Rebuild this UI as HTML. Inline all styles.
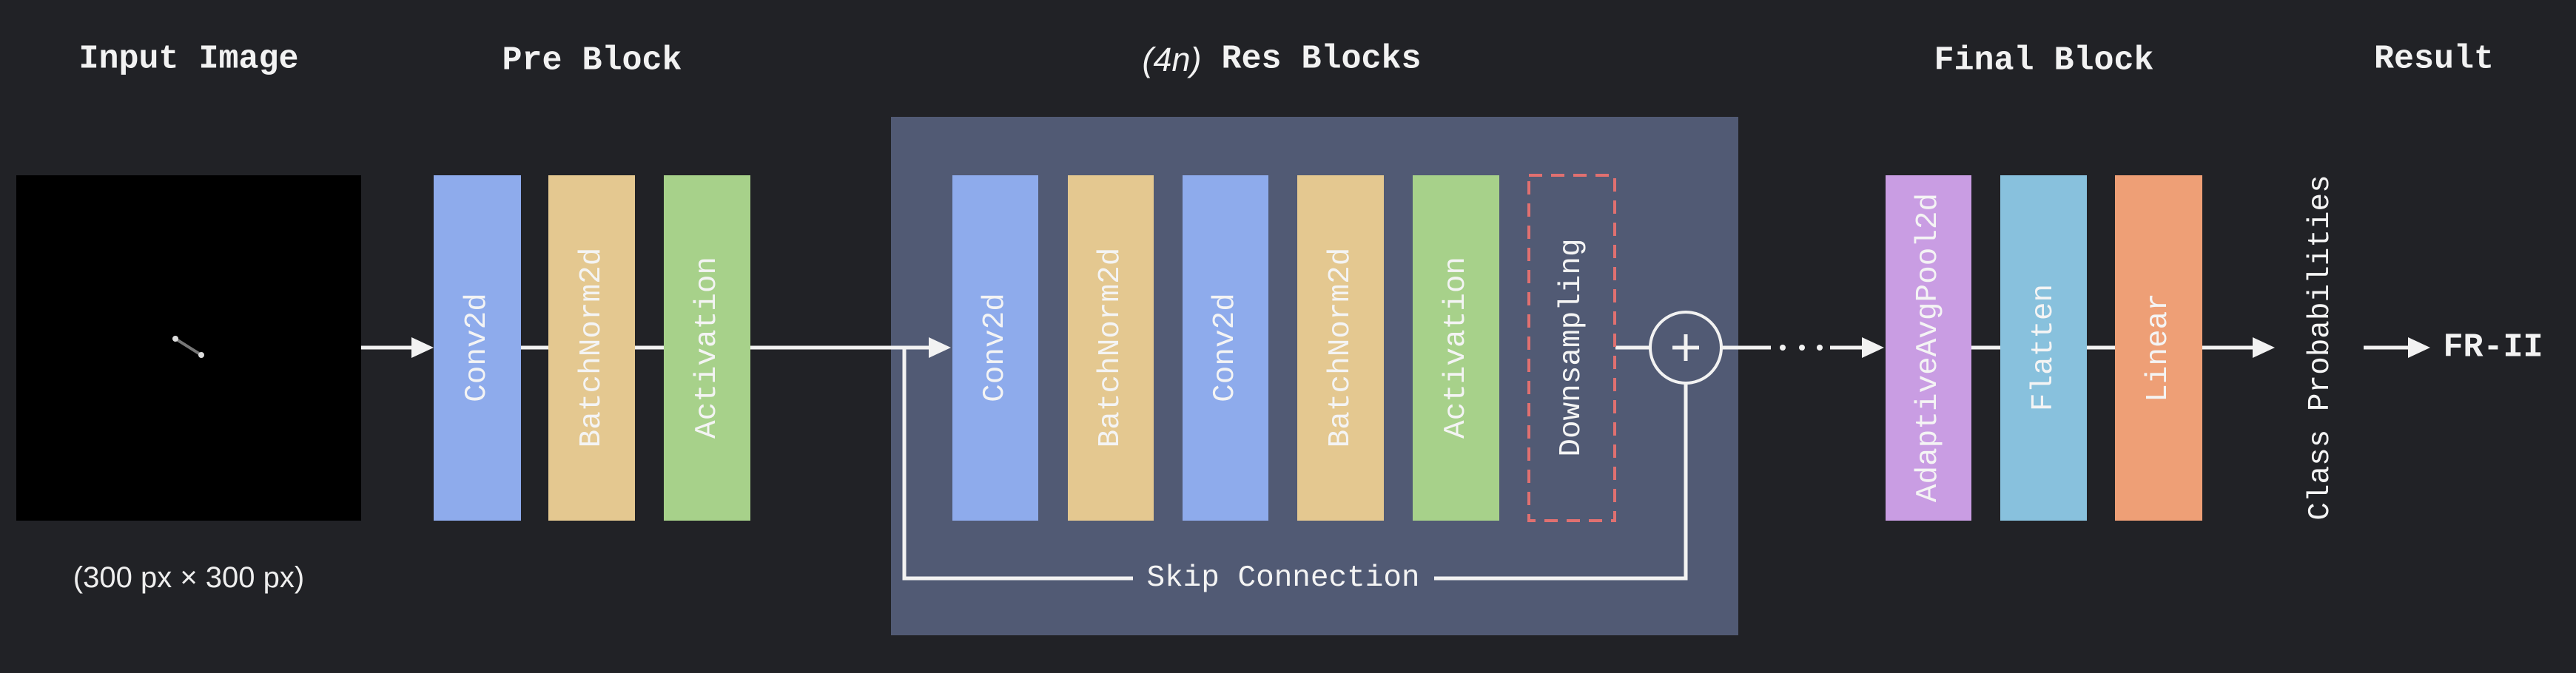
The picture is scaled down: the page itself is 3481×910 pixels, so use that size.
<!DOCTYPE html>
<html><head><meta charset="utf-8"><style>
html,body{margin:0;padding:0;background:#212226;}
svg{display:block}
.t{font-family:"Liberation Mono",monospace;font-weight:bold;font-size:45px;fill:#f2f2f2;text-anchor:middle;dominant-baseline:central}
.b{font-family:"Liberation Mono",monospace;font-size:41px;fill:#f4f4f4;text-anchor:middle;dominant-baseline:central}
</style></head><body>
<svg width="3481" height="910" viewBox="0 0 3481 910" xmlns="http://www.w3.org/2000/svg">
<rect width="3481" height="910" fill="#212226"/>
<defs><marker id="a" markerWidth="10" markerHeight="10" refX="9" refY="5" orient="auto" markerUnits="userSpaceOnUse" viewBox="0 0 10 10"></marker></defs>
<!-- titles -->
<text class="t" x="255" y="80">Input Image</text>
<text class="t" x="800" y="82">Pre Block</text>
<text class="t" x="1732" y="80"><tspan font-family="Liberation Sans,sans-serif" font-weight="normal" font-style="italic">(4n)</tspan> Res Blocks</text>
<text class="t" x="2762" y="82">Final Block</text>
<text class="t" x="3289" y="80">Result</text>
<!-- input image -->
<rect x="22" y="237" width="466" height="467" fill="#000"/>
<line x1="237" y1="458" x2="272" y2="480" stroke="#777" stroke-width="4"/>
<circle cx="237" cy="458" r="4" fill="#ddd"/><circle cx="272" cy="480" r="4" fill="#ddd"/>
<text x="255" y="781" font-family="Liberation Sans,sans-serif" font-size="40" fill="#eee" text-anchor="middle" dominant-baseline="central">(300 px × 300 px)</text>
<!-- res panel -->
<rect x="1204" y="158" width="1145" height="701" fill="#515a74"/>
<!-- main line -->
<g stroke="#f2f2f2" stroke-width="5" fill="none">
<line x1="488" y1="470" x2="560" y2="470"/>
<line x1="704" y1="470" x2="1265" y2="470"/>
<line x1="2183" y1="470" x2="2230" y2="470"/>
<line x1="2326" y1="470" x2="2393" y2="470"/>
<line x1="2473" y1="470" x2="2520" y2="470"/>
<line x1="2664" y1="470" x2="2860" y2="470"/>
<line x1="2976" y1="470" x2="3050" y2="470"/>
<line x1="3194" y1="470" x2="3260" y2="470"/>
<polyline points="1222,470 1222,782 1531,782"/>
<polyline points="1938,782 2278,782 2278,518"/>
<circle cx="2278" cy="470" r="48" stroke-width="4"/>
<line x1="2278" y1="452" x2="2278" y2="488"/>
<line x1="2260" y1="470" x2="2296" y2="470"/>
</g>
<g fill="#f2f2f2">
<polygon points="586,470 556,456 556,484"/>
<polygon points="1285,470 1255,456 1255,484"/>
<polygon points="2546,470 2516,456 2516,484"/>
<polygon points="3074,470 3044,456 3044,484"/>
<polygon points="3284,470 3254,456 3254,484"/>
<circle cx="2409" cy="470" r="4"/><circle cx="2435" cy="470" r="4"/><circle cx="2459" cy="470" r="4"/>
</g>
<text class="b" x="1734" y="782">Skip Connection</text>
<!-- boxes -->
<rect x="586" y="237" width="118" height="467" fill="#8eabec"/>
<rect x="741" y="237" width="117" height="467" fill="#e4c890"/>
<rect x="897" y="237" width="117" height="467" fill="#a7d18a"/>
<rect x="1287" y="237" width="116" height="467" fill="#8eabec"/>
<rect x="1443" y="237" width="116" height="467" fill="#e4c890"/>
<rect x="1598" y="237" width="116" height="467" fill="#8eabec"/>
<rect x="1753" y="237" width="117" height="467" fill="#e4c890"/>
<rect x="1909" y="237" width="117" height="467" fill="#a7d18a"/>
<rect x="2066" y="237" width="116" height="467" fill="none" stroke="#e07070" stroke-width="4" stroke-dasharray="18,12"/>
<rect x="2548" y="237" width="116" height="467" fill="#c99de3"/>
<rect x="2703" y="237" width="117" height="467" fill="#88c1dd"/>
<rect x="2858" y="237" width="118" height="467" fill="#ee9f76"/>
<g class="b">
<text class="b" transform="translate(645,470) rotate(-90)">Conv2d</text>
<text class="b" transform="translate(800,470) rotate(-90)">BatchNorm2d</text>
<text class="b" transform="translate(956,470) rotate(-90)">Activation</text>
<text class="b" transform="translate(1345,470) rotate(-90)">Conv2d</text>
<text class="b" transform="translate(1501,470) rotate(-90)">BatchNorm2d</text>
<text class="b" transform="translate(1656,470) rotate(-90)">Conv2d</text>
<text class="b" transform="translate(1812,470) rotate(-90)">BatchNorm2d</text>
<text class="b" transform="translate(1968,470) rotate(-90)">Activation</text>
<text class="b" transform="translate(2124,470) rotate(-90)">Downsampling</text>
<text class="b" transform="translate(2606,470) rotate(-90)">AdaptiveAvgPool2d</text>
<text class="b" transform="translate(2762,470) rotate(-90)">Flatten</text>
<text class="b" transform="translate(2917,470) rotate(-90)">Linear</text>
<text class="b" transform="translate(3136,470) rotate(-90)">Class Probabilities</text>
</g>
<text class="t" x="3369" y="470" font-size="50">FR-II</text>
</svg>
</body></html>
